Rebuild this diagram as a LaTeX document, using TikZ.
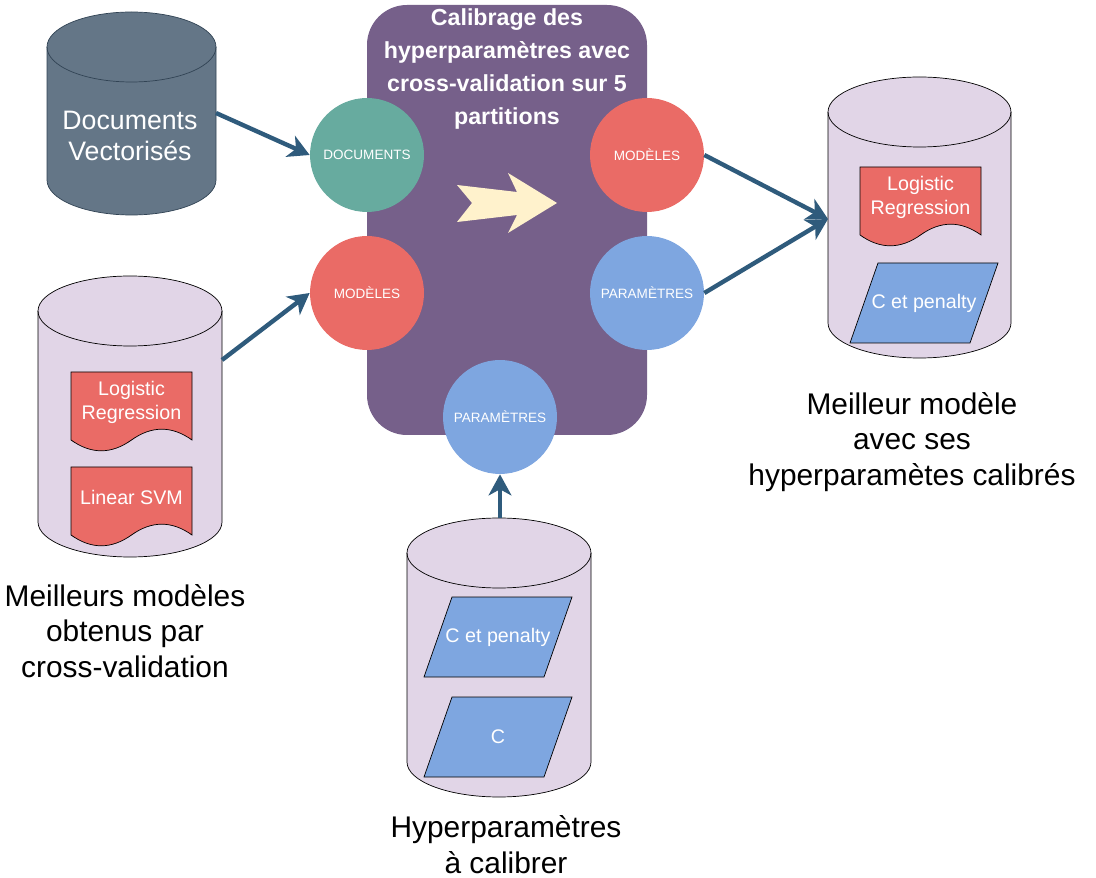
\documentclass[tikz,border=0pt]{standalone}
\usepackage{fontspec}
\setmainfont{Liberation Sans}
\usetikzlibrary{arrows.meta}

\definecolor{violetCadre}{HTML}{76608A}
\definecolor{lavande}{HTML}{E1D5E7}
\definecolor{ardoise}{HTML}{647687}
\definecolor{ardoiseBord}{HTML}{314354}
\definecolor{vertDoc}{HTML}{67AB9F}
\definecolor{rougeMod}{HTML}{EA6B66}
\definecolor{bleuPar}{HTML}{7EA6E0}
\definecolor{creme}{HTML}{FFF2CC}
\definecolor{bleuFleche}{HTML}{2F5B7C}

% 圆柱: 中心x, 顶y, 底y, 半宽, 样式
\newcommand{\cuve}[5]{%
  \draw[#5] (#1-#4,#2+35) -- (#1-#4,#3-35)
    arc[start angle=180,end angle=0,x radius=#4,y radius=35]
    -- (#1+#4,#2+35)
    arc[start angle=0,end angle=-180,x radius=#4,y radius=35] -- cycle;
  \draw[#5,fill=none] (#1-#4,#2+35)
    arc[start angle=180,end angle=0,x radius=#4,y radius=35];}

% 文档形状: 左上x, 左上y, 名字, 文字
\newcommand{\feuille}[4]{%
  \draw[fill=rougeMod] (#1,#2) -- (#1+121,#2) -- (#1+121,#2+68)
    .. controls (#1+100.8,#2+53.6) and (#1+80.7,#2+53.6) .. (#1+60.5,#2+68)
    .. controls (#1+40.3,#2+82.4) and (#1+20.2,#2+82.4) .. (#1,#2+68) -- cycle;
  \node[petit] (#3) at (#1+60.5,#2+30) {#4};}

% 平行四边形: 左下x, 上y, 名字, 文字
\newcommand{\parallelo}[4]{%
  \draw[fill=bleuPar] (#1+28,#2) -- (#1+148,#2) -- (#1+120,#2+80) -- (#1,#2+80) -- cycle;
  \node[petit] (#3) at (#1+74,#2+40) {#4};}

\begin{document}
\begin{tikzpicture}[x=0.02cm, y=-0.02cm,
    rond/.style={circle, minimum size=2.28cm, inner sep=0pt, text=white,
      font=\fontsize{7.7}{9}\selectfont},
    fleche/.style={draw=bleuFleche, line width=2.5pt,
      -{Stealth[length=12pt,width=13pt,inset=3.5pt]}},
    legende/.style={align=center, font=\fontsize{17}{20.4}\selectfont},
    petit/.style={align=center, text=white, font=\fontsize{11.2}{13.6}\selectfont}]

    % 画布大小
    \useasboundingbox (0,0) rectangle (1096,878);

    % 中间的紫色框
    \fill[violetCadre, rounded corners=0.8cm] (367,5) rectangle (647,435);
    \node[text=white, align=center, font=\bfseries\fontsize{13.2}{18.6}\selectfont]
      (titre) at (507,69) {Calibrage des\\hyperparamètres avec\\cross-validation sur 5\\partitions};

    % 中间的箭头
    \fill[creme] (457,185) -- (517,192) -- (508,173) -- (557,203) -- (508,233)
      -- (517,215) -- (457,222) -- (472,203) -- cycle;

    % 四周的圆
    \node[rond, fill=vertDoc] (docsIn) at (367,155) {DOCUMENTS};
    \node[rond, fill=rougeMod] (modelesIn) at (367,293) {MODÈLES};
    \node[rond, fill=rougeMod] (modelesOut) at (647,155) {MODÈLES};
    \node[rond, fill=bleuPar] (paramsOut) at (647,293) {PARAMÈTRES};
    \node[rond, fill=bleuPar] (paramsIn) at (500,417) {PARAMÈTRES};

    % 左上: 向量化文档
    \cuve{131.5}{12}{215}{84.5}{fill=ardoise, draw=ardoiseBord}
    \node[text=white, align=center, font=\fontsize{15.2}{18.1}\selectfont]
      (docsTexte) at (130,136) {Documents\\Vectorisés};
    \coordinate (docsCuve) at (216,113);

    % 左下: 最佳模型
    \cuve{130}{276}{557}{92}{fill=lavande, draw=black}
    \feuille{71}{372}{logReg}{Logistic\\Regression}
    \feuille{71}{467}{linSvm}{Linear SVM}
    \coordinate (modelesCuve) at (222,360);
    \node[legende] (legModeles) at (125,631) {Meilleurs modèles\\obtenus par\\cross-validation};

    % 右边: 最终模型
    \cuve{919.5}{77}{358}{91.5}{fill=lavande, draw=black}
    \feuille{860}{167}{logRegOut}{Logistic\\Regression}
    \parallelo{850}{263}{penaltyOut}{C et penalty}
    \coordinate (meilleurCuve) at (828,219);
    \node[legende] (legMeilleur) at (912,442) {Meilleur modèle\\avec ses\\hyperparamètes calibrés};

    % 下方: 超参数
    \cuve{499}{518}{797}{92}{fill=lavande, draw=black}
    \parallelo{424}{597}{penaltyIn}{C et penalty}
    \parallelo{424}{697}{cIn}{C}
    \coordinate (hyperCuve) at (500,518);
    \node[legende] (legHyper) at (506,845) {Hyperparamètres\\à calibrer};

    % 连线
    \draw[fleche] (docsCuve) -- (docsIn.west);
    \draw[fleche] (modelesCuve) -- (modelesIn.west);
    \draw[fleche] (modelesOut.east) -- (meilleurCuve);
    \draw[fleche] (paramsOut.east) -- (meilleurCuve);
    \draw[fleche] (hyperCuve) -- (paramsIn.south);
\end{tikzpicture}
\end{document}
